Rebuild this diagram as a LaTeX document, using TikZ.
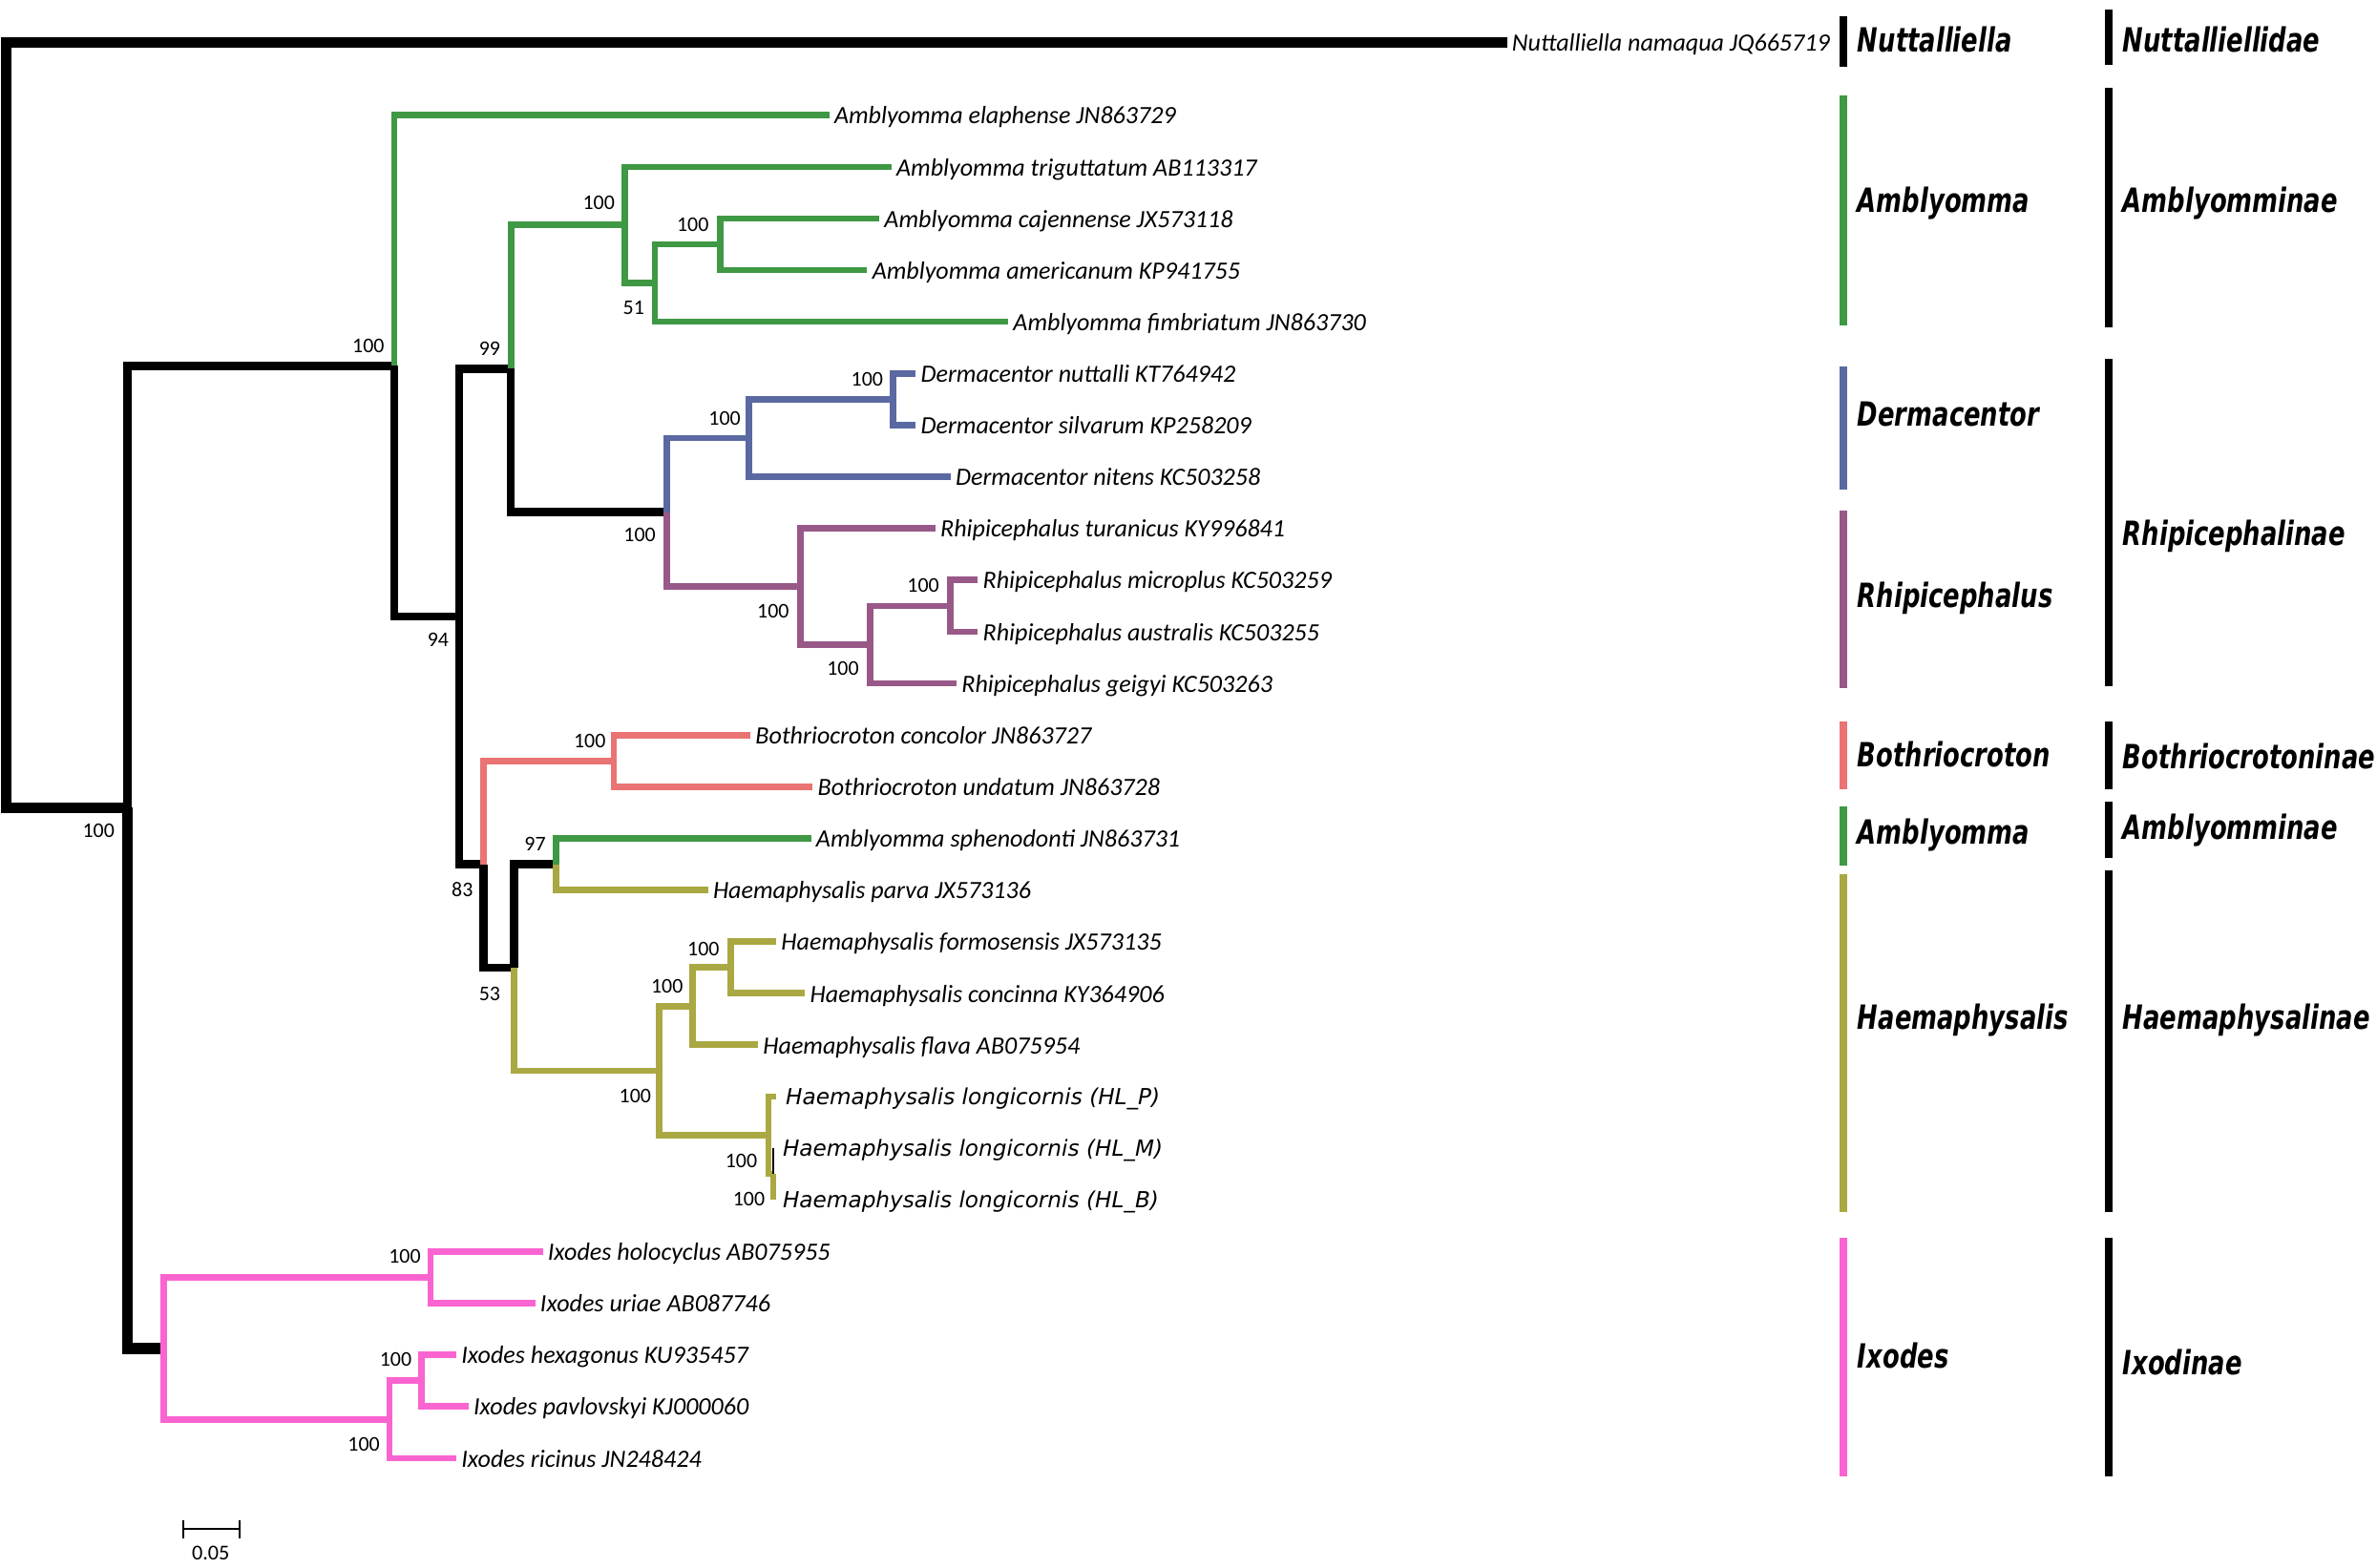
\documentclass[tikz,border=0pt]{standalone}
\usepackage{fontspec}
\usepackage{graphicx}
\setmainfont{Carlito}
\newfontfamily\cladefont{DejaVu Sans}
\newfontfamily\hlfont{DejaVu Sans}
\newcommand{\cladetxt}[1]{\scalebox{0.74}[1]{#1}}
\definecolor{amblyC}{RGB}{62,152,68}
\definecolor{dermaC}{RGB}{90,105,162}
\definecolor{rhipiC}{RGB}{152,88,136}
\definecolor{bothrC}{RGB}{234,115,115}
\definecolor{haemaC}{RGB}{170,168,66}
\definecolor{ixodC}{RGB}{250,100,208}
\begin{document}
\begin{tikzpicture}[x=0.5pt,y=-0.5pt,
  rootbr/.style={line width=3.3pt},
  blk/.style={line width=2.7pt},
  ixblk/.style={line width=3.7pt},
  br/.style={line width=2.1pt},
  taxon/.style={anchor=base west, inner xsep=1.5pt, inner ysep=0pt, yshift=-2.9pt, font=\fontsize{8.2}{10}\selectfont\itshape},
  hlname/.style={anchor=base west, inner xsep=3pt, inner ysep=0pt, yshift=-2.75pt, font=\hlfont\fontsize{7.3}{9}\selectfont\itshape},
  boot/.style={inner sep=0pt, font=\fontsize{6.9}{8}\selectfont},
  genbar/.style={line width=2.5pt},
  fambar/.style={line width=2.7pt},
  cladelab/.style={anchor=base west, inner sep=0pt, yshift=-4pt, font=\cladefont\fontsize{11}{13}\selectfont\bfseries\itshape}]
\useasboundingbox (0,0) rectangle (1568,1034);

% internal nodes
\coordinate (root) at (4,533);
\coordinate (nZ) at (84,533);
\coordinate (nA) at (260,241.4);
\coordinate (nB) at (303,406.7);
\coordinate (nC) at (337,243.2);
\coordinate (nE) at (412,148.4);
\coordinate (nF) at (432,186.8);
\coordinate (nG) at (475,161.2);
\coordinate (nH) at (440,338);
\coordinate (nI) at (494,289);
\coordinate (nJ) at (589,263.5);
\coordinate (nK) at (528,387);
\coordinate (nL) at (574,425.3);
\coordinate (nM) at (627,399.8);
\coordinate (nD) at (319,570.2);
\coordinate (nBo) at (405,502);
\coordinate (nN) at (339,638.4);
\coordinate (nO) at (367,570.2);
\coordinate (nP) at (435,706.5);
\coordinate (nQ) at (457,663.9);
\coordinate (nR) at (482,638.4);
\coordinate (nS) at (507,749);
\coordinate (nS2) at (510,774.6);
\coordinate (nIx) at (108,889.7);
\coordinate (nT) at (284,842.8);
\coordinate (nU) at (257,936.5);
\coordinate (nV) at (278,911);

% tips
\coordinate (t0) at (994,28);
\coordinate (t1) at (547,76);
\coordinate (t2) at (588,110.1);
\coordinate (t3) at (580,144.2);
\coordinate (t4) at (572,178.2);
\coordinate (t5) at (665,212.3);
\coordinate (t6) at (604,246.4);
\coordinate (t7) at (604,280.5);
\coordinate (t8) at (627,314.6);
\coordinate (t9) at (617,348.6);
\coordinate (t10) at (645,382.7);
\coordinate (t11) at (645,416.8);
\coordinate (t12) at (631,450.9);
\coordinate (t13) at (495,485);
\coordinate (t14) at (536,519);
\coordinate (t15) at (535,553.1);
\coordinate (t16) at (467,587.2);
\coordinate (t17) at (512,621.3);
\coordinate (t18) at (531,655.4);
\coordinate (t19) at (500,689.4);
\coordinate (t20) at (512,723.5);
\coordinate (t21) at (510,757.6);
\coordinate (t22) at (510,791.7);
\coordinate (t23) at (358,825.8);
\coordinate (t24) at (353,859.8);
\coordinate (t25) at (301,893.9);
\coordinate (t26) at (309,928);
\coordinate (t27) at (301,962.1);

% backbone
\draw[rootbr] (t0) -| (root) -- (nZ);
\draw[blk] (nZ) |- (nA);
\draw[ixblk] (nZ) |- (nIx);
\draw[blk] (nA) |- (nB);
\draw[blk] (nB) |- (nC);
\draw[blk] (nB) |- (nD);
\draw[blk] (nC) |- (nH);
\draw[blk] (nD) |- (nN);
\draw[blk] (nN) |- (nO);

% Amblyomma
\draw[br,amblyC] (nA) |- (t1);
\draw[br,amblyC] (nC) |- (nE);
\draw[br,amblyC] (nE) |- (t2);
\draw[br,amblyC] (nE) |- (nF);
\draw[br,amblyC] (nF) |- (nG);
\draw[br,amblyC] (nF) |- (t5);
\draw[br,amblyC] (nG) |- (t3);
\draw[br,amblyC] (nG) |- (t4);
\draw[br,amblyC] (nO) |- (t15);

% Dermacentor
\draw[br,dermaC] (nH) |- (nI);
\draw[br,dermaC] (nI) |- (nJ);
\draw[br,dermaC] (nI) |- (t8);
\draw[br,dermaC] (nJ) |- (t6);
\draw[br,dermaC] (nJ) |- (t7);

% Rhipicephalus
\draw[br,rhipiC] (nH) |- (nK);
\draw[br,rhipiC] (nK) |- (t9);
\draw[br,rhipiC] (nK) |- (nL);
\draw[br,rhipiC] (nL) |- (nM);
\draw[br,rhipiC] (nL) |- (t12);
\draw[br,rhipiC] (nM) |- (t10);
\draw[br,rhipiC] (nM) |- (t11);

% Bothriocroton
\draw[br,bothrC] (nD) |- (nBo);
\draw[br,bothrC] (nBo) |- (t13);
\draw[br,bothrC] (nBo) |- (t14);

% Haemaphysalis
\draw[br,haemaC] (nO) |- (t16);
\draw[br,haemaC] (nN) |- (nP);
\draw[br,haemaC] (nP) |- (nQ);
\draw[br,haemaC] (nQ) |- (nR);
\draw[br,haemaC] (nR) |- (t17);
\draw[br,haemaC] (nR) |- (t18);
\draw[br,haemaC] (nQ) |- (t19);
\draw[br,haemaC] (nP) |- (nS);
\draw[br,haemaC] (nS) |- (t20);
\draw[br,haemaC] (nS) |- (nS2);
\draw[br,haemaC] (nS2) |- (t22);
\draw[line width=0.6pt] (nS2) |- (t21);

% Ixodes
\draw[br,ixodC] (nIx) |- (nT);
\draw[br,ixodC] (nT) |- (t23);
\draw[br,ixodC] (nT) |- (t24);
\draw[br,ixodC] (nIx) |- (nU);
\draw[br,ixodC] (nU) |- (nV);
\draw[br,ixodC] (nU) |- (t27);
\draw[br,ixodC] (nV) |- (t25);
\draw[br,ixodC] (nV) |- (t26);

% Text Node: taxa
\node[taxon] (l0) at (t0) {Nuttalliella namaqua JQ665719};
\node[taxon] (l1) at (t1) {Amblyomma elaphense JN863729};
\node[taxon] (l2) at (t2) {Amblyomma triguttatum AB113317};
\node[taxon] (l3) at (t3) {Amblyomma cajennense JX573118};
\node[taxon] (l4) at (t4) {Amblyomma americanum KP941755};
\node[taxon] (l5) at (t5) {Amblyomma fimbriatum JN863730};
\node[taxon] (l6) at (t6) {Dermacentor nuttalli KT764942};
\node[taxon] (l7) at (t7) {Dermacentor silvarum KP258209};
\node[taxon] (l8) at (t8) {Dermacentor nitens KC503258};
\node[taxon] (l9) at (t9) {Rhipicephalus turanicus KY996841};
\node[taxon] (l10) at (t10) {Rhipicephalus microplus KC503259};
\node[taxon] (l11) at (t11) {Rhipicephalus australis KC503255};
\node[taxon] (l12) at (t12) {Rhipicephalus geigyi KC503263};
\node[taxon] (l13) at (t13) {Bothriocroton concolor JN863727};
\node[taxon] (l14) at (t14) {Bothriocroton undatum JN863728};
\node[taxon] (l15) at (t15) {Amblyomma sphenodonti JN863731};
\node[taxon] (l16) at (t16) {Haemaphysalis parva JX573136};
\node[taxon] (l17) at (t17) {Haemaphysalis formosensis JX573135};
\node[taxon] (l18) at (t18) {Haemaphysalis concinna KY364906};
\node[taxon] (l19) at (t19) {Haemaphysalis flava AB075954};
\node[hlname] (l20) at (t20) {Haemaphysalis longicornis (HL\_P)};
\node[hlname] (l21) at (t21) {Haemaphysalis longicornis (HL\_M)};
\node[hlname] (l22) at (t22) {Haemaphysalis longicornis (HL\_B)};
\node[taxon] (l23) at (t23) {Ixodes holocyclus AB075955};
\node[taxon] (l24) at (t24) {Ixodes uriae AB087746};
\node[taxon] (l25) at (t25) {Ixodes hexagonus KU935457};
\node[taxon] (l26) at (t26) {Ixodes pavlovskyi KJ000060};
\node[taxon] (l27) at (t27) {Ixodes ricinus JN248424};

% Text Node: support values
\node[boot] (bZ) at (65,548) {100};
\node[boot] (bA) at (243,228) {100};
\node[boot] (bB) at (289,422) {94};
\node[boot] (bC) at (323,230) {99};
\node[boot] (bE) at (395,134) {100};
\node[boot] (bG) at (457,148) {100};
\node[boot] (bF) at (418,203) {51};
\node[boot] (bJ) at (572,250) {100};
\node[boot] (bI) at (478,276) {100};
\node[boot] (bH) at (422,353) {100};
\node[boot] (bK) at (510,403) {100};
\node[boot] (bL) at (556,441) {100};
\node[boot] (bM) at (609,386) {100};
\node[boot] (bBo) at (389,489) {100};
\node[boot] (bD) at (305,587) {83};
\node[boot] (bO) at (353,557) {97};
\node[boot] (bN) at (323,656) {53};
\node[boot] (bR) at (464,626) {100};
\node[boot] (bQ) at (440,651) {100};
\node[boot] (bP) at (419,723) {100};
\node[boot] (bS2) at (489,766) {100};
\node[boot] (bS) at (494,791) {100};
\node[boot] (bT) at (267,829) {100};
\node[boot] (bV) at (261,897) {100};
\node[boot] (bU) at (240,953) {100};

% genus bars
\draw[genbar] (1216,10.5) -- (1216,44);
\draw[genbar,amblyC] (1216,63) -- (1216,215);
\draw[genbar,dermaC] (1216,242) -- (1216,323);
\draw[genbar,rhipiC] (1216,337) -- (1216,454);
\draw[genbar,bothrC] (1216,476) -- (1216,521);
\draw[genbar,amblyC] (1216,532) -- (1216,571);
\draw[genbar,haemaC] (1216,577) -- (1216,800);
\draw[genbar,ixodC] (1216,817) -- (1216,974);

% family bars
\draw[fambar] (1391,6) -- (1391,43);
\draw[fambar] (1391,58) -- (1391,216);
\draw[fambar] (1391,237) -- (1391,453);
\draw[fambar] (1391,476) -- (1391,521);
\draw[fambar] (1391,529) -- (1391,566);
\draw[fambar] (1391,574) -- (1391,800);
\draw[fambar] (1391,817) -- (1391,974);

% Text Node: genera
\node[cladelab] (gNu) at (1225,26) {\cladetxt{Nuttalliella}};
\node[cladelab] (gAm) at (1225,132) {\cladetxt{Amblyomma}};
\node[cladelab] (gDe) at (1225,273) {\cladetxt{Dermacentor}};
\node[cladelab] (gRh) at (1225,393) {\cladetxt{Rhipicephalus}};
\node[cladelab] (gBo) at (1225,498) {\cladetxt{Bothriocroton}};
\node[cladelab] (gAm2) at (1225,549) {\cladetxt{Amblyomma}};
\node[cladelab] (gHa) at (1225,671) {\cladetxt{Haemaphysalis}};
\node[cladelab] (gIx) at (1225,895) {\cladetxt{Ixodes}};

% Text Node: families
\node[cladelab] (fNu) at (1400,26) {\cladetxt{Nuttalliellidae}};
\node[cladelab] (fAm) at (1400,132) {\cladetxt{Amblyomminae}};
\node[cladelab] (fRh) at (1400,352) {\cladetxt{Rhipicephalinae}};
\node[cladelab] (fBo) at (1400,499) {\cladetxt{Bothriocrotoninae}};
\node[cladelab] (fAm2) at (1400,546) {\cladetxt{Amblyomminae}};
\node[cladelab] (fHa) at (1400,671) {\cladetxt{Haemaphysalinae}};
\node[cladelab] (fIx) at (1400,899) {\cladetxt{Ixodinae}};

% scale bar
\coordinate (sbL) at (121,1009);
\coordinate (sbR) at (158,1009);
\draw[line width=0.7pt] (sbL) -- (sbR);
\draw[line width=0.7pt] (sbL) ++(0,-6) -- ++(0,12);
\draw[line width=0.7pt] (sbR) ++(0,-6) -- ++(0,12);
\node[boot, font=\fontsize{7}{8}\selectfont] (sbT) at (139,1025) {0.05};

\end{tikzpicture}
\end{document}
